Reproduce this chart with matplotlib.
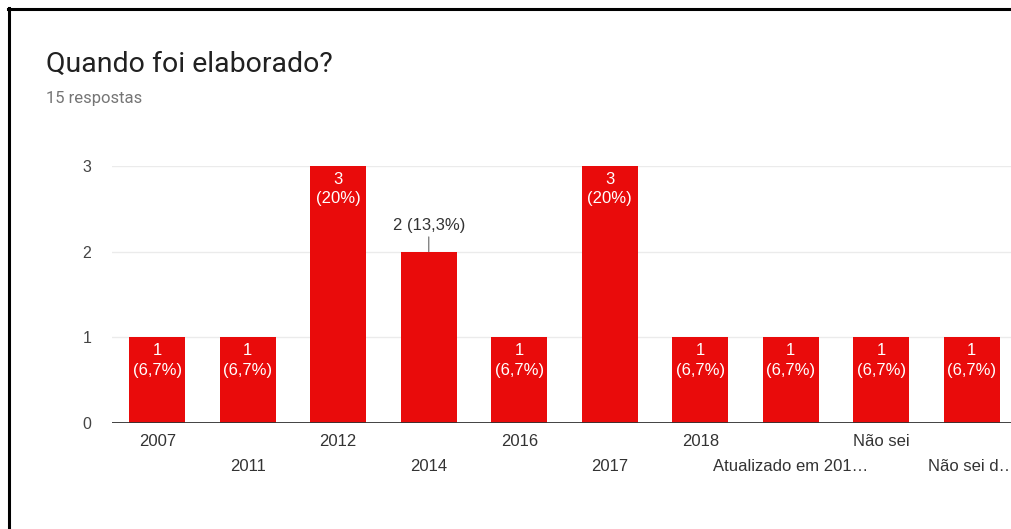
import numpy as np
import matplotlib
matplotlib.use("Agg")
import matplotlib.pyplot as plt
from matplotlib.lines import Line2D

categories = ["2007", "2011", "2012", "2014", "2016", "2017", "2018",
              "Atualizado em 201…", "Não sei", "Não sei d…"]
counts = [1, 1, 3, 2, 1, 3, 1, 1, 1, 1]
outside_labels = ["2014"]

total = sum(counts)
W, H = 1012, 529

fig = plt.figure(figsize=(W / 100, H / 100), dpi=100)
fig.patch.set_facecolor("white")

# axes: left edge at 112px, slots of ~90.5px, last one runs past the right edge
ax = fig.add_axes([112 / W, (H - 423) / H, 905 / W, 257 / H])
ax.set_xlim(-0.5, len(categories) - 0.5)
ax.set_ylim(0, 3)

x = np.arange(len(categories))
bars = ax.bar(x, counts, width=0.62, color="#e90b0b", zorder=2)

for s in ax.spines.values():
    s.set_visible(False)
ax.set_yticks([0, 1, 2, 3])
ax.yaxis.grid(True, color="#ebebeb", lw=1, zorder=0)
ax.axhline(0, color="#333333", lw=1.3, zorder=3)
ax.tick_params(axis="y", length=0, pad=15, labelsize=11.5, labelcolor="#444444")
for t in ax.get_yticklabels():
    t.set_fontfamily("Liberation Sans")
ax.set_xticks([])

def pct_text(v):
    p = round(v / total * 100, 1)
    if p == int(p):
        return f"{int(p)}%"
    return f"{p:.1f}%".replace(".", ",")

for i, (cat, v) in enumerate(zip(categories, counts)):
    # category labels in two alternating rows
    off = -13.5 if i % 2 == 0 else -31
    ax.annotate(cat, xy=(i, 0), xytext=(0, off), textcoords="offset points",
                ha="center", va="center", fontsize=12, color="#333333",
                family="Liberation Sans", annotation_clip=False)
    if cat in outside_labels:
        ax.annotate(f"{v} ({pct_text(v)})", xy=(i, v), xytext=(0, 19),
                    textcoords="offset points", ha="center", va="center",
                    fontsize=12, color="#333333", family="Liberation Sans",
                    arrowprops=dict(arrowstyle="-", color="#777777", lw=0.9,
                                    shrinkA=1, shrinkB=0))
    else:
        ax.annotate(f"{v}\n({pct_text(v)})", xy=(i, v), xytext=(0, -4),
                    textcoords="offset points", ha="center", va="top",
                    fontsize=12, color="white", family="Liberation Sans",
                    linespacing=1.4, zorder=4)

fig.text(46 / W, 1 - 64 / H, "Quando foi elaborado?", fontsize=20.5,
         family="Roboto", color="#212121", ha="left", va="center")
fig.text(46 / W, 1 - 98 / H, "15 respostas", fontsize=12,
         family="Roboto", color="#757575", ha="left", va="center")

# card border (top and left edges)
fig.add_artist(Line2D([9 / W, 9 / W], [0, 1 - 8 / H], color="black", lw=2.2,
                      transform=fig.transFigure))
fig.add_artist(Line2D([8 / W, 1], [1 - 9 / H, 1 - 9 / H], color="black", lw=2.2,
                      transform=fig.transFigure))

fig.savefig("out.png", dpi=100)
